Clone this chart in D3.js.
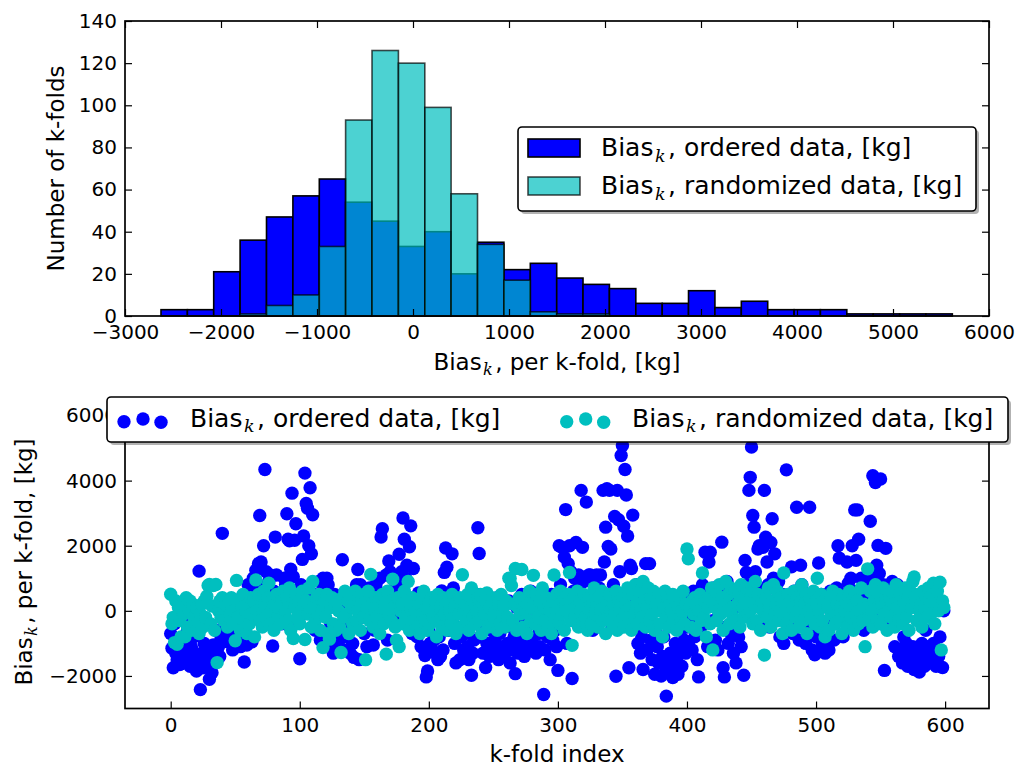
<!DOCTYPE html>
<html>
<head>
<meta charset="utf-8">
<script src="https://cdn.jsdelivr.net/npm/d3@7"></script>
<style>
  body { margin: 0; background: #fff; }
  svg { display: block; }
  text { font-family: "DejaVu Sans", sans-serif; fill: #000; }
</style>
</head>
<body>
<svg id="chart" width="1030" height="769"></svg>
<script>

// ---- histogram (top) ----
var binEdges = [-2625, -2350, -2076, -1801, -1526, -1251, -976, -702, -427, -152,
                123, 397, 672, 947, 1222, 1497, 1771, 2046, 2321, 2596,
                2870, 3145, 3420, 3695, 3970, 4244, 4519, 4794, 5069, 5343, 5618];
var orderedCounts = [3, 3, 21, 36, 47, 57, 65, 54, 45, 33, 40, 20, 35, 22, 25,
                     18, 15, 13, 6, 6, 12, 4, 7, 3, 3, 3, 1, 1, 1, 1];
var randomizedCounts = [0, 0, 0, 1, 5, 10, 33, 93, 126, 120, 99, 58, 34, 17, 2,
                        1, 1, 0, 0, 0, 0, 0, 0, 0, 0, 0, 0, 0, 0, 0];
var histXTicks = [-3000, -2000, -1000, 0, 1000, 2000, 3000, 4000, 5000, 6000];
var histYTicks = [0, 20, 40, 60, 80, 100, 120, 140];

// ---- scatter (bottom), bias per k-fold index ----
var orderedBias = [
  -700, -1150, -1750, -400, -1300, -1500, -900, -1650, -1200, -250, -1550, -1000, -1350, -600, -1450, -1700, -1100, -1250, -800, -1600,
  -1850, -1500, 1220, -2420, -1300, -1750, -1000, -1550, -1200, -1650, -2100, -1400, -1900, -1050, -1350, -600, -1200, -1100, -1400, -850,
  2380, -300, -100, -500, -950, -700, 200, 300, -1200, -1000, -400, -100, 150, -800, -1100, 400, -500, -1570, 100, -1050,
  800, 500, 250, -950, 1000, 600, 1250, 300, 1450, 2930, 1500, 700, 2000, 4340, 1200, 500, 900, 1100, 300, -1080,
  600, 2265, 1100, 500, 200, -200, -400, 300, 1000, 800, 2980, 2200, 2150, 1280, 3615, 1050, 2170, 2675, 200, -300,
  -1470, 800, 1580, 2300, 4230, 3300, 3150, 2000, 3780, 1750, 2950, 500, -600, -200, 100, 900, -900, 200, 1000, -1100,
  700, 1000, 800, 300, -400, -1000, -1300, 500, -700, 200, -1050, 400, -600, 1570, -1200, 300, -800, 100, -500, -1300,
  500, -1000, -1430, 200, 800, 1270, -1500, 800, -200, 400, -700, 100, -1100, 500, 700, -300, 300, -1050, -600, 800,
  600, 300, 1000, 2270, 2520, -100, 500, 1100, -900, 1530, 1200, 300, -200, 1000, 700, 600, -300, 1740, 900, 1200,
  2850, 2200, 1000, 1400, -200, 1970, 2610, -700, 1300, 400, 200, -800, 550, -500, -1100, 100, -400, -1370, -2030, -1850,
  -600, -1000, -1160, -300, -900, -1300, 200, -1500, -800, -1400, 610, -1200, 1180, 1930, 1340, -600, -300, 200, 1750, 700,
  -1000, -1600, -500, 300, -1500, -800, 100, -1200, -700, -400, -1100, -1500, 400, -1980, -1300, -900, -200, 500, 2550, 1760,
  -800, -500, -1300, 200, -1740, -1000, -300, -1400, -600, 100, -1200, -900, -300, 400, -1500, -700, 200, -1100, -400, -1300,
  -200, -1000, 300, -1600, -500, -1200, -800, -1930, 100, -1300, -600, -1000, 500, -200, -1400, -700, 200, -1100, -400, 600,
  -900, -300, 100, -1300, 400, -700, -1100, 0, -500, -2570, -1200, 200, -800, -300, -1500, 500, -900, 300, -600, -1100,
  -1830, 2000, 800, 1950, 300, 1650, 3110, -1000, 1450, 2000, 1200, -2080, 600, 1000, 2100, -400, 1100, 800, 3700, 1950,
  900, 400, 3340, -300, 1100, 1100, 200, -600, 1000, 500, 1100, -200, 700, 1100, 300, 3700, 1500, 2570, 3750, 1980,
  3700, 1900, -500, 800, 2900, -2010, 3700, 2800, 1200, 4770, 5080, 2600, 4340, 3560, 2300, -1750, 1400, 1300, 2940, 400,
  -500, 800, -1000, 300, -1300, -800, -1800, 700, 1450, -1200, -400, 1450, -900, -1500, 200, -1950, -700, -1100, -1600, 500,
  -2000, -1400, -800, -1700, -2620, -1500, -1900, -1300, 100, -2050, -1600, -1000, -1450, -1950, -1200, -600, -1700, 300, -900, -1300,
  -500, -1000, 400, -300, -1200, 600, -800, 200, -1500, -2030, -600, 100, 800, -400, 1800, 500, -1100, 1500, 1800, 300,
  -300, 700, -900, 400, -1200, 200, 600, 2110, -1750, -2030, -500, 900, -1000, 300, -700, 500, -1300, 100, -1600, 600,
  -800, 200, -1100, 400, -1980, 1550, 1180, 800, 3700, 4100, 5030, 2930, 2570, 1200, 700, 1900, 2000, 600, -300, 1950,
  3700, 2260, 1500, 800, -500, 2100, 2830, 1000, 1750, 300, 600, 900, -800, 200, 500, -1000, 300, 4330, -600, 100,
  400, 1350, -700, 600, -400, 3180, 200, -900, 1400, 800, -300, 500, -1000, 200, -600, 3180, 400, -1200, 100, -1350,
  -800, 300, 1470, -1250, 500, -1000, 200, -1300, -500, 100, -1200, 600, -400, 200, -900, 300, 700, 2000, 1620, -300,
  500, -800, 300, 400, 1500, 850, -500, 1000, 2000, 600, 3100, 1550, 3100, 2200, 500, 1000, 300, -600, 200, 900,
  400, 1100, 2750, 600, 4150, -200, 3940, 1400, 2010, 1150, 4050, 300, 800, -1830, 1920, 700, 200, -500, 500, 900,
  -300, -1100, 200, 800, -1400, 300, -1200, -1600, -800, -1500, -1000, -1700, -1300, 100, -1500, -1100, -1800, -1400, 400, -1200,
  -1880, -1500, -1000, -1300, -1700, -600, -1400, -1100, -1600, -1250, -1500, -1000, 300, -1700, -1300, -1400, -800, 100, -1740, 0
];
var randomizedBias = [
  510, -400, -200, -975, 300, -1030, 100, -300, -800, 200, -100, -800, 400, -500, 0, 300, -600, 200, -200, -400,
  100, -300, -700, -100, 200, -500, 300, -200, 450, 780, 810, -400, 150, 780, -600, 810, -1590, 0, 300, -200,
  400, -300, 100, 200, -500, 300, -100, 400, -400, 0, -920, 935, -200, 300, -600, 100, 500, -300, 0, -700,
  200, -400, 400, -100, 300, -800, 950, 0, 500, -300, 100, -500, 600, 200, -200, 400, 850, -400, 0, 300,
  -600, 200, 500, -200, 100, -400, 300, 600, -100, 0, 400, -300, 700, -600, 200, -850, 100, 500, -200, 300,
  -400, 0, 600, 200, -880, 300, -100, 700, 100, -500, 900, 200, -300, 400, -100, 500, -600, 0, -1130, 300,
  -200, 500, -700, -870, 100, 400, -400, 200, -600, 300, 0, -500, -1280, 400, -200, 600, -100, 300, -700, 500,
  100, -400, 200, 600, -300, 0, 400, -600, 300, -200, 500, -1500, 100, 600, -300, 1120, 200, -500, 0, 400,
  -200, 300, -700, 100, 500, -400, 200, -1330, 600, -100, 300, -300, 970, 100, -500, -900, 400, -1100, 0, 200,
  -400, 600, -200, 300, 900, -600, 100, 400, -300, 0, 300, -500, 200, -700, 400, -100, 600, -300, 100, -600,
  200, -400, 400, -200, 0, 300, -800, 500, -300, 100, -500, 400, -100, 200, -600, 300, 0, -400, 500, -200,
  100, -700, 300, -100, 400, -500, 1110, 0, 200, -300, 500, -600, 100, 700, -200, 300, -400, 0, 400, -300,
  500, -700, 200, -100, 300, 550, -500, 100, -300, 400, -200, 0, 300, -600, 200, -400, 500, -100, 100, -500,
  300, -200, 1000, 990, 780, -300, 200, 1300, -600, 100, 400, -100, 1270, -500, 300, 0, -700, 200, 600, -300,
  100, 1090, -400, 500, 0, -200, 300, -600, 700, 100, -300, 400, -500, 200, 0, -700, 300, 1100, -200, 500,
  100, -400, 600, -100, 300, -600, 200, 0, 500, 1180, -300, -1060, 400, -200, 100, 600, -500, 300, 0, -300,
  500, -200, 200, -600, 400, 0, -400, 300, 700, -100, 200, -500, 400, 0, 600, -300, 100, -700, 300, -200,
  500, 0, -400, 200, -100, 600, -600, 300, 100, -300, 400, -500, 200, 0, 700, -300, 100, -600, 500, -100,
  800, 200, -400, 600, 0, -200, 900, 300, -500, 100, 700, -300, 400, -100, 600, -600, 200, 0, 500, -400,
  300, -800, 100, 600, -200, 400, -500, 200, 0, 500, -300, 300, -600, 100, 400, -200, 0, 600, -400, 200,
  1900, 1600, 100, -500, 300, -100, 400, -600, 200, 0, 500, -300, 1160, -200, 300, -800, 100, 400, -400, 700,
  -1200, 200, 600, -300, 0, 800, -100, 400, -600, 300, 900, 0, 500, -400, 700, 100, -200, 600, -300, 200,
  500, -500, 800, 100, -200, 400, 700, -100, 300, 0, 600, -400, 200, 900, -300, 500, 100, -600, 300, 0,
  -1360, 400, -200, 700, 100, -500, 300, 800, -100, 200, 600, -300, 0, 400, -700, 1160, 200, -400, 500, -100,
  300, -600, 100, 600, -200, 400, 0, -500, 300, 800, -300, 200, 500, -700, 0, 400, -200, 100, 600, -400,
  300, 1000, 0, -500, 500, -300, 200, -800, 400, 100, -600, 300, -100, 600, 0, -400, 200, 500, -300, 100,
  -700, 400, 0, 300, -500, 200, 600, -200, 100, -600, 500, -100, 300, -400, 0, 700, -300, 200, -1100, 100,
  1290, -200, 600, 0, -500, 300, 800, -300, 100, 500, -400, 200, 700, -100, 300, -600, 0, 400, -200, 600,
  200, -500, 800, 100, -300, 500, 0, -400, 300, 700, -200, 400, -600, 600, 100, 900, 1040, 300, -300, 500,
  0, 200, -500, 600, 100, 400, -200, 700, 300, -100, 500, 850, -400, 200, 600, 0, 880, -1200, 300, 100
];
var scatterXTicks = [0, 100, 200, 300, 400, 500, 600];
var scatterYTicks = [-2000, 0, 2000, 4000, 6000];

var BLUE = "#0000ff", CYAN = "#00bfbf";
var svg = d3.select("#chart");
var fmt = d3.format("d");

// subscripted "Bias_k" label helper
function biasText(sel, rest, size) {
  sel.append("tspan").text("Bias");
  sel.append("tspan").text("k").style("font-style", "italic")
     .style("font-family", "'DejaVu Serif', serif")
     .style("font-size", (size * 0.7) + "px").attr("dx", size * 0.06).attr("dy", size * 0.22);
  sel.append("tspan").text(rest).attr("dx", size * 0.1).attr("dy", -size * 0.22);
}

// frame with matplotlib-classic inside ticks on four sides
function frame(g, x, y, xt, yt, w, h) {
  var tl = 7;
  g.append("g").attr("transform", "translate(0," + h + ")")
    .call(d3.axisBottom(x).tickValues(xt).tickFormat(fmt).tickSizeInner(-tl).tickSizeOuter(0).tickPadding(9))
    .call(a => a.select(".domain").remove());
  g.append("g")
    .call(d3.axisTop(x).tickValues(xt).tickSizeInner(-tl).tickSizeOuter(0).tickFormat(""))
    .call(a => a.select(".domain").remove());
  g.append("g")
    .call(d3.axisLeft(y).tickValues(yt).tickFormat(fmt).tickSizeInner(-tl).tickSizeOuter(0).tickPadding(8))
    .call(a => a.select(".domain").remove());
  g.append("g").attr("transform", "translate(" + w + ",0)")
    .call(d3.axisRight(y).tickValues(yt).tickSizeInner(-tl).tickSizeOuter(0).tickFormat(""))
    .call(a => a.select(".domain").remove());
  g.selectAll(".tick line").attr("stroke", "#000").attr("stroke-width", 1.2);
  g.selectAll(".tick text").style("font-size", "20px").attr("fill", "#000");
  g.append("rect").attr("width", w).attr("height", h)
    .attr("fill", "none").attr("stroke", "#000").attr("stroke-width", 1.7);
}

// ================= top: histogram =================
var m1 = { left: 125, top: 21 }, w1 = 864, h1 = 295;
var g1 = svg.append("g").attr("transform", "translate(" + m1.left + "," + m1.top + ")");
var x1 = d3.scaleLinear().domain([-3000, 6000]).range([0, w1]);
var y1 = d3.scaleLinear().domain([0, 140]).range([h1, 0]);

var bins = orderedCounts.map((c, i) => ({ x0: binEdges[i], x1: binEdges[i + 1], o: c, r: randomizedCounts[i] }));

g1.append("g").selectAll("rect").data(bins.filter(d => d.o > 0)).enter().append("rect")
  .attr("x", d => x1(d.x0)).attr("width", d => x1(d.x1) - x1(d.x0))
  .attr("y", d => y1(d.o)).attr("height", d => y1(0) - y1(d.o))
  .attr("fill", BLUE).attr("stroke", "#000").attr("stroke-width", 1.6);

g1.append("g").selectAll("rect").data(bins.filter(d => d.r > 0)).enter().append("rect")
  .attr("x", d => x1(d.x0)).attr("width", d => x1(d.x1) - x1(d.x0))
  .attr("y", d => y1(d.r)).attr("height", d => y1(0) - y1(d.r))
  .attr("fill", CYAN).attr("fill-opacity", 0.7)
  .attr("stroke", "#000").attr("stroke-opacity", 0.7).attr("stroke-width", 1.6);

frame(g1, x1, y1, histXTicks, histYTicks, w1, h1);

svg.append("text").attr("transform", "translate(64," + (m1.top + h1 / 2) + ") rotate(-90)")
  .attr("text-anchor", "middle").style("font-size", "23px").text("Number of k-folds");
svg.append("text").attr("x", m1.left + w1 / 2).attr("y", 370)
  .attr("text-anchor", "middle").style("font-size", "23px")
  .call(t => biasText(t, ", per k-fold, [kg]", 23));

// legend (top)
var lg1 = svg.append("g");
lg1.append("rect").attr("x", 521).attr("y", 130).attr("width", 458).attr("height", 84).attr("rx", 4)
  .attr("fill", "#000").attr("fill-opacity", 0.3);
lg1.append("rect").attr("x", 518).attr("y", 127).attr("width", 458).attr("height", 84).attr("rx", 4)
  .attr("fill", "#fff").attr("stroke", "#000").attr("stroke-width", 1.6);
lg1.append("rect").attr("x", 528).attr("y", 139).attr("width", 52).attr("height", 18)
  .attr("fill", BLUE).attr("stroke", "#000").attr("stroke-width", 1.6);
lg1.append("rect").attr("x", 528).attr("y", 177).attr("width", 52).attr("height", 18)
  .attr("fill", CYAN).attr("fill-opacity", 0.7).attr("stroke", "#000").attr("stroke-opacity", 0.7).attr("stroke-width", 1.6);
lg1.append("text").attr("x", 601).attr("y", 156).style("font-size", "25px")
  .call(t => biasText(t, ", ordered data, [kg]", 25));
lg1.append("text").attr("x", 601).attr("y", 194).style("font-size", "25px")
  .call(t => biasText(t, ", randomized data, [kg]", 25));

// ================= bottom: scatter =================
var m2 = { left: 125, top: 415.5 }, w2 = 864, h2 = 293;
var g2 = svg.append("g").attr("transform", "translate(" + m2.left + "," + m2.top + ")");
var x2 = d3.scaleLinear().domain([-35.4, 634]).range([0, w2]);
var y2 = d3.scaleLinear().domain([-3000, 6000]).range([h2, 0]);
var R = 6.7;

g2.append("g").selectAll("circle").data(orderedBias).enter().append("circle")
  .attr("cx", (d, i) => x2(i)).attr("cy", d => y2(d)).attr("r", R).attr("fill", BLUE);
g2.append("g").selectAll("circle").data(randomizedBias).enter().append("circle")
  .attr("cx", (d, i) => x2(i)).attr("cy", d => y2(d)).attr("r", R).attr("fill", CYAN);

frame(g2, x2, y2, scatterXTicks, scatterYTicks, w2, h2);

svg.append("text").attr("transform", "translate(32," + (m2.top + h2 / 2) + ") rotate(-90)")
  .attr("text-anchor", "middle").style("font-size", "23px")
  .call(t => biasText(t, ", per k-fold, [kg]", 23));
svg.append("text").attr("x", m2.left + w2 / 2).attr("y", 762)
  .attr("text-anchor", "middle").style("font-size", "23px").text("k-fold index");

// legend (bottom, two columns, three scatter points each)
var lg2 = svg.append("g");
lg2.append("rect").attr("x", 110).attr("y", 400).attr("width", 901).attr("height", 45).attr("rx", 4)
  .attr("fill", "#000").attr("fill-opacity", 0.3);
lg2.append("rect").attr("x", 107).attr("y", 397).attr("width", 901).attr("height", 45).attr("rx", 4)
  .attr("fill", "#fff").attr("stroke", "#000").attr("stroke-width", 1.6);
var dotDx = [0, 19, 37], dotY = [421.7, 419, 422.3];
[{ x: 124, c: BLUE, tx: 190, label: ", ordered data, [kg]" },
 { x: 566.7, c: CYAN, tx: 632, label: ", randomized data, [kg]" }].forEach(function (e) {
  lg2.selectAll(null).data(dotDx).enter().append("circle")
    .attr("cx", (d, i) => e.x + d).attr("cy", (d, i) => dotY[i]).attr("r", R).attr("fill", e.c);
  lg2.append("text").attr("x", e.tx).attr("y", 426.7).style("font-size", "25px")
    .call(t => biasText(t, e.label, 25));
});
</script>
</body>
</html>
